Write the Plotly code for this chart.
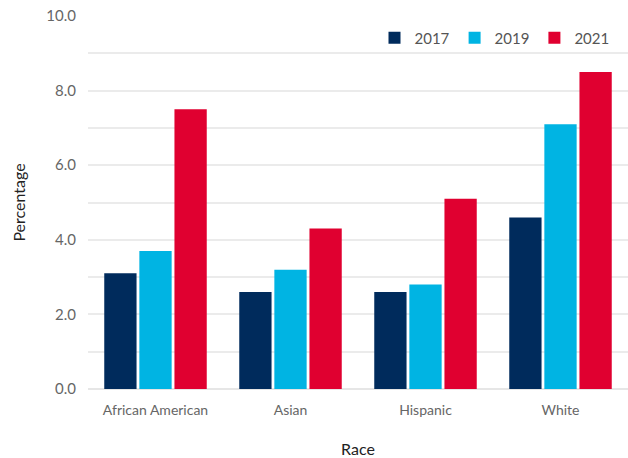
import plotly.graph_objects as go

races = ["African American", "Asian", "Hispanic", "White"]
years = ["2017", "2019", "2021"]
pct_2017 = [3.1, 2.6, 2.6, 4.6]
pct_2019 = [3.7, 3.2, 2.8, 7.1]
pct_2021 = [7.5, 4.3, 5.1, 8.5]
colors = ["#002b5c", "#00b4e3", "#e00030"]

fig = go.Figure()
for year, vals, col in zip(years, [pct_2017, pct_2019, pct_2021], colors):
    fig.add_trace(go.Bar(name=year, x=races, y=vals, marker=dict(color=col, line=dict(width=0))))

font_family = "Lato, 'Open Sans', sans-serif"
fig.update_layout(
    width=628, height=458,
    margin=dict(l=88, r=0, t=16, b=69),
    paper_bgcolor="white", plot_bgcolor="white",
    barmode="group", bargap=0.22, bargroupgap=0.08,
    font=dict(family=font_family, color="#666666", size=14),
    legend=dict(orientation="h", x=0.975, xanchor="right", y=0.985, yanchor="top",
                bgcolor="rgba(0,0,0,0)", font=dict(size=15, color="#555555"),
                itemwidth=30, traceorder="normal"),
    xaxis=dict(title=dict(text="Race", font=dict(size=16, color="#222222"), standoff=27),
               showgrid=False, ticks="outside", ticklen=8, tickcolor="rgba(0,0,0,0)",
               showline=False, tickfont=dict(size=14, color="#666666")),
    yaxis=dict(title=dict(text="Percentage", font=dict(size=16, color="#222222"), standoff=16),
               range=[0, 10], dtick=2, tickformat=".1f", showgrid=True, gridcolor="#ebebeb",
               gridwidth=1.5, zeroline=True, zerolinecolor="#e6e6e6", zerolinewidth=2,
               ticks="outside", ticklen=8, tickcolor="rgba(0,0,0,0)",
               minor=dict(dtick=1, showgrid=True, gridcolor="#ebebeb", gridwidth=1.5),
               tickfont=dict(size=15, color="#666666")),
)

fig.write_html("out.html")
